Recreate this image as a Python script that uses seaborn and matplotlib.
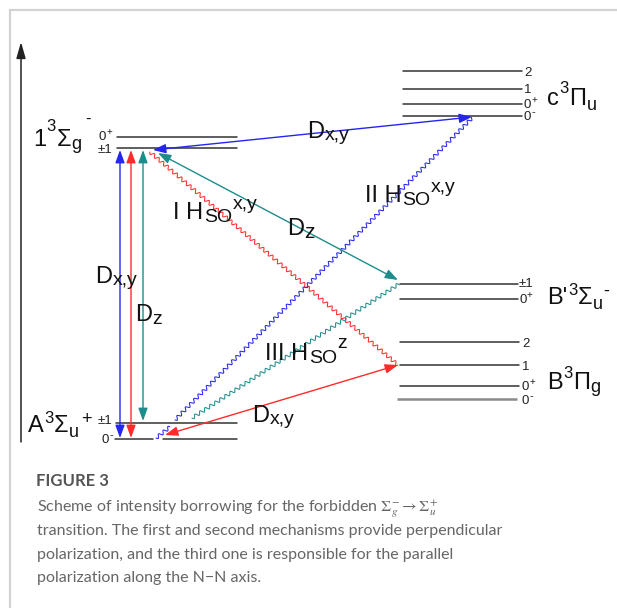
import numpy as np
import pandas as pd
import matplotlib
matplotlib.use("Agg")
import matplotlib.pyplot as plt
import seaborn as sns

# ---------------------------------------------------------------------------
# Level scheme (vertical coordinate in drawing units, increasing downwards)
# ---------------------------------------------------------------------------
g_levels = ["0+", "±1"]            # 1^3Sigma_g^-
g_y = [137, 148]
c_levels = ["2", "1", "0+", "0-"]  # c^3Pi_u
c_y = [71, 89, 104, 116]
bp_levels = ["±1", "0+"]           # B'^3Sigma_u^-
bp_y = [284, 299]
b_levels = ["2", "1", "0+", "0-"]  # B^3Pi_g
b_y = [342, 365, 386, 399]
a_levels = ["±1", "0-"]            # A^3Sigma_u^+
a_y = [423, 439]

caption_title = "FIGURE 3"
caption_lines = [
    "Scheme of intensity borrowing for the forbidden "
    r"$\mathit{\Sigma}_g^{-} \rightarrow \mathit{\Sigma}_u^{+}$",
    "transition. The first and second mechanisms provide perpendicular",
    "polarization, and the third one is responsible for the parallel",
    "polarization along the N\u2212N axis.",
]

BLUE = "#2525f0"
RED = "#ff2b2b"
TEAL = "#1f8c8c"
INK = "#111111"
LEVEL = "#333333"
DIAG_FONT = "Liberation Sans"
CAP_FONT = "Lato"

sns.set_theme(style="white")
plt.rcParams["font.family"] = [DIAG_FONT, "DejaVu Sans"]

fig = plt.figure(figsize=(6.17, 6.08), dpi=100)
ax = fig.add_axes([0, 0, 1, 1])
ax.set_xlim(0, 617)
ax.set_ylim(608, 0)
ax.axis("off")
renderer = fig.canvas.get_renderer()

# horizontal extent of each electronic state's ladder
g_span = (117, 237)
c_span = (403, 522)
bp_span = (400, 518)
b_span = (400, 519)
a_span = (116, 237)

# ---------------------------------------------------------------------------
# Level lines via seaborn
# ---------------------------------------------------------------------------
rows = []
def add_level(uid, span, y):
    rows.append({"uid": uid, "x": span[0], "y": y})
    rows.append({"uid": uid, "x": span[1], "y": y})

for i, y in enumerate(g_y):
    add_level(f"g{i}", g_span, y)
for i, y in enumerate(c_y):
    add_level(f"c{i}", c_span, y)
for i, y in enumerate(bp_y):
    add_level(f"bp{i}", bp_span, y)
for i, y in enumerate(b_y[:3]):
    add_level(f"b{i}", b_span, y)
add_level("a0", a_span, a_y[0])
# the A 0- level is interrupted where the wavy coupling line reaches it
add_level("a1l", (a_span[0] - 1, 153), a_y[1])
add_level("a1r", (163, a_span[1]), a_y[1])
levels = pd.DataFrame(rows)
sns.lineplot(data=levels, x="x", y="y", units="uid", estimator=None,
             color=LEVEL, lw=1.1, ax=ax, legend=False, sort=False)
# lowest B level drawn in a lighter, heavier stroke
ax.plot([b_span[0] - 3, b_span[1] - 2], [b_y[3], b_y[3]], color="#8a8a8a", lw=1.8,
        solid_capstyle="butt")
ax.set_xlim(0, 617)
ax.set_ylim(608, 0)
ax.set_xlabel("")
ax.set_ylabel("")

# ---------------------------------------------------------------------------
# helpers
# ---------------------------------------------------------------------------
def rich(x, y, pieces, ha="left", color=INK, family=DIAG_FONT):
    """Lay out (text, size, dy) pieces side by side starting at baseline y."""
    texts, widths = [], []
    for p in pieces:
        if p[0] is None:
            texts.append(None)
            widths.append(p[1])
            continue
        s, size, dy = p
        t = ax.text(0, y + dy, s, fontsize=size, family=family, color=color,
                    ha="left", va="baseline")
        texts.append(t)
        widths.append(t.get_window_extent(renderer).width + 0.6)
    total = sum(widths)
    cur = x - total if ha == "right" else x
    for t, w in zip(texts, widths):
        if t is not None:
            t.set_x(cur)
        cur += w

def small_label(x, baseline, lab, ha="left"):
    if lab == "0+":
        pieces = [("0", 9.5, 0), ("+", 7, -5)]
    elif lab == "0-":
        pieces = [("0", 9.5, 0), ("-", 8, -5)]
    else:
        pieces = [(lab, 9.5, 0)]
    rich(x, baseline, pieces, ha=ha, color="#222222")

def wavy(p0, p1, color, amp=1.7, wl=6.0):
    p0 = np.asarray(p0, float)
    p1 = np.asarray(p1, float)
    d = p1 - p0
    L = np.hypot(*d)
    u = d / L
    n = np.array([-u[1], u[0]])
    s = np.linspace(0, L, int(L * 6))
    off = amp * np.sin(2 * np.pi * s / wl)
    pts = p0[None, :] + s[:, None] * u[None, :] + off[:, None] * n[None, :]
    ax.plot(pts[:, 0], pts[:, 1], color=color, lw=0.75)

def arrow(p0, p1, color, style="<|-|>"):
    ax.annotate("", xy=p1, xytext=p0,
                arrowprops=dict(arrowstyle=f"{style},head_length=0.55,head_width=0.2",
                                color=color, lw=1.0, shrinkA=0, shrinkB=0,
                                mutation_scale=14))

# ---------------------------------------------------------------------------
# frame and energy axis
# ---------------------------------------------------------------------------
ax.plot([9, 617], [9.5, 9.5], color="#d2d2d2", lw=1.6, solid_capstyle="butt")
ax.plot([9.5, 9.5], [9, 608], color="#d2d2d2", lw=1.6, solid_capstyle="butt")
ax.annotate("", xy=(21, 42), xytext=(21, 442),
            arrowprops=dict(arrowstyle="-|>,head_length=0.7,head_width=0.2",
                            color="#222222", lw=1.1, shrinkA=0, shrinkB=0,
                            mutation_scale=14))

# ---------------------------------------------------------------------------
# transitions
# ---------------------------------------------------------------------------
top = g_y[1]
# direct dipole transitions at the left
arrow((120, a_y[1] - 1), (120, top + 2), BLUE)
arrow((131, a_y[1] - 1), (131, top + 2), RED)
arrow((143, a_y[0] - 2), (143, top + 2), TEAL)
# 1^3Sigma_g^- <-> c^3Pi_u  (D_x,y)
arrow((472, c_y[3] + 1), (153, top + 2), BLUE)
# 1^3Sigma_g^- <-> B'^3Sigma_u^-  (D_z)
arrow((158, top + 5), (398, bp_y[0] - 4), TEAL)
# B^3Pi_g <-> A^3Sigma_u^+  (D_x,y)
arrow((398, b_y[1]), (165, a_y[1] - 4), RED)

# spin-orbit couplings
wavy((150, top + 4), (398, b_y[1]), RED)
wavy((175, a_y[0] - 3), (472, c_y[3] + 2), BLUE)
wavy((156, a_y[1] - 1), (170, a_y[1] - 12), BLUE)
wavy((192, a_y[0] - 5), (399, bp_y[0]), TEAL)

# ---------------------------------------------------------------------------
# state labels
# ---------------------------------------------------------------------------
rich(33, 146, [("1", 17, 0), ("3", 12, -15), ("Σ", 17, 0), ("g", 13, 3),
               (None, 3), ("-", 12, -22)])
rich(28, 432, [("A", 17, 0), ("3", 12, -9), ("Σ", 17, 0), ("u", 13, 5),
               (None, 1), ("+", 13, -8)])
rich(547, 105, [("c", 17, 0), ("3", 12, -12), ("Π", 17, 0), ("u", 13, 5)])
rich(547, 304, [("B'", 17, 0), ("3", 12, -9), ("Σ", 17, 0), ("u", 13, 5),
                ("-", 13, -8)])
rich(547, 389, [("B", 17, 0), ("3", 12, -11), ("Π", 17, 0), ("g", 13, 3)])

# sub-level labels
small_label(113, 140, g_levels[0], ha="right")
small_label(113, 153, g_levels[1], ha="right")
small_label(113, 424, a_levels[0], ha="right")
small_label(114, 443, a_levels[1], ha="right")
for lab, yb in zip(c_levels, [76, 93, 108, 120]):
    small_label(c_span[1] + 2, yb, lab)
for lab, yb in zip(bp_levels, [287, 303]):
    small_label(bp_span[1] + 1, yb, lab)
for lab, yb in zip(b_levels, [347, 370, 390, 404]):
    small_label(b_span[1] + 3, yb, lab)

# transition-moment labels
rich(95, 283, [("D", 17, 0), ("x,y", 14, 2)])
rich(135, 321, [("D", 17, 0), ("z", 14, 3)])
rich(307, 138, [("D", 17, 0), ("x,y", 14, 2)])
rich(287, 235, [("D", 17, 0), ("z", 15, 3)])
rich(252, 422, [("D", 17, 0), ("x,y", 14, 2)])

# spin-orbit labels
rich(173, 219, [("I H", 17, 0), ("SO", 14, 3), ("x,y", 14, -10)])
rich(365, 202, [("II H", 17, 0), ("SO", 14, 3), ("x,y", 14, -10)])
rich(265, 360, [("III H", 17, 0), ("SO", 14, 3), ("z", 14, -12)])

# ---------------------------------------------------------------------------
# caption
# ---------------------------------------------------------------------------
ax.text(36, 486, caption_title, fontsize=12, fontweight="bold",
        family=CAP_FONT, color="#555555", va="baseline")
cap_texts = []
for line, yb in zip(caption_lines, [512, 535, 559, 582]):
    t = ax.text(37, yb, line, fontsize=12, family=CAP_FONT, color="#666666",
                va="baseline", math_fontfamily="stix")
    cap_texts.append(t)
w = cap_texts[1].get_window_extent(renderer).width
fs = 12 * 463 / w
for t in cap_texts:
    t.set_fontsize(fs)

fig.savefig("out.png", dpi=100, facecolor="white")
